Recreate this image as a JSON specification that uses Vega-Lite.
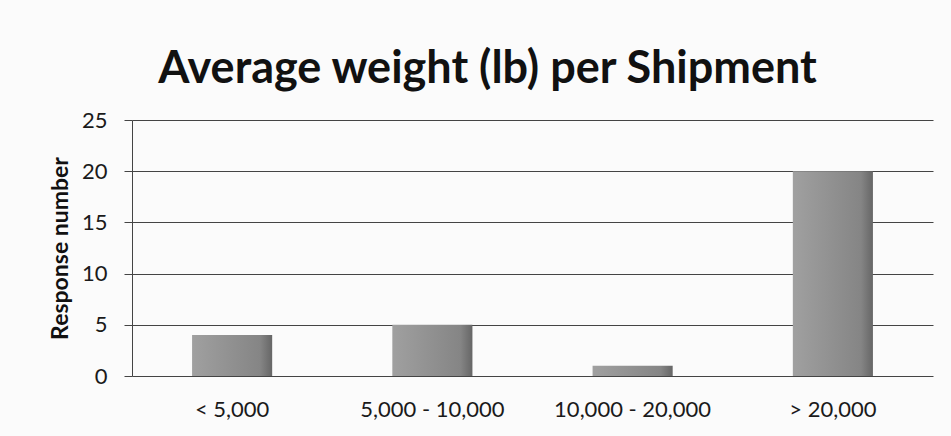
{
  "$schema": "https://vega.github.io/schema/vega-lite/v6.json",
  "autosize": {"type": "none"},
  "padding": {"left": 132, "top": 120, "right": 18, "bottom": 60},
  "width": 801,
  "height": 256,
  "background": "#fbfbfb",
  "title": {
    "text": "Average weight (lb) per Shipment",
    "font": "Lato",
    "fontSize": 45,
    "fontWeight": "bold",
    "color": "#111111",
    "anchor": "middle",
    "dx": -45,
    "offset": 17
  },
  "data": {
    "values": [
      {"category": "< 5,000", "responses": 4},
      {"category": "5,000 - 10,000", "responses": 5},
      {"category": "10,000 - 20,000", "responses": 1},
      {"category": "> 20,000", "responses": 20}
    ]
  },
  "mark": {
    "type": "bar",
    "color": {
      "gradient": "linear",
      "x1": 0, "x2": 1, "y1": 0, "y2": 0,
      "stops": [
        {"offset": 0, "color": "#a0a0a0"},
        {"offset": 0.85, "color": "#858585"},
        {"offset": 1, "color": "#666666"}
      ]
    }
  },
  "encoding": {
    "x": {
      "field": "category",
      "type": "nominal",
      "sort": null,
      "scale": {"paddingInner": 0.6, "paddingOuter": 0.3},
      "axis": {
        "title": null,
        "labelAngle": 0,
        "labelFont": "Lato",
        "labelFontSize": 22,
        "labelColor": "#1a1a1a",
        "labelPadding": 23,
        "ticks": false,
        "domain": false
      }
    },
    "y": {
      "field": "responses",
      "type": "quantitative",
      "scale": {"domain": [0, 25]},
      "axis": {
        "title": "Response number",
        "titleFont": "Lato",
        "titleFontSize": 23,
        "titleFontWeight": "bold",
        "titleColor": "#111111",
        "titlePadding": 9,
        "values": [0, 5, 10, 15, 20, 25],
        "labelFont": "Lato",
        "labelFontSize": 22,
        "labelColor": "#1a1a1a",
        "labelPadding": 17,
        "tickSize": 8,
        "tickColor": "#444444",
        "domainColor": "#444444",
        "gridColor": "#444444",
        "gridOpacity": 1
      }
    }
  },
  "config": {
    "view": {"stroke": null}
  }
}
